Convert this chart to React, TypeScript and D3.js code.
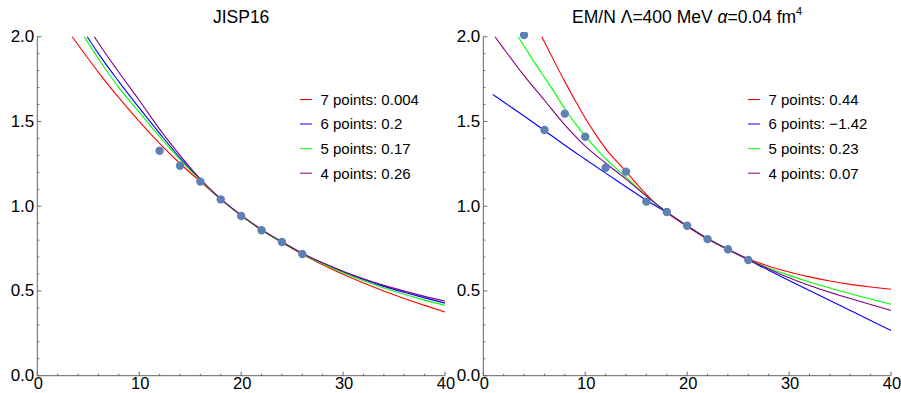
import React from "react";
import * as d3 from "d3";

const W = 901;
const H = 393;

// ---------- data ----------
const jispX = [12, 14, 16, 18, 20, 22, 24, 26];
const jispY = [1.327, 1.239, 1.145, 1.04, 0.942, 0.858, 0.789, 0.718];

const emnX = [4, 6, 8, 10, 12, 14, 16, 18, 20, 22, 24, 26];
const emnY = [2.01, 1.45, 1.546, 1.41, 1.227, 1.204, 1.027, 0.966, 0.885, 0.806, 0.746, 0.683];

const jispRed: [number, number][] = [[3.43, 2.0], [5, 1.87], [6, 1.79], [8, 1.64], [10, 1.5], [12, 1.37], [14, 1.252], [16, 1.145], [18, 1.04], [20, 0.945], [22, 0.86], [24, 0.786], [26, 0.717], [28, 0.655], [30, 0.598], [32, 0.547], [34, 0.5], [36, 0.456], [38, 0.415], [40, 0.376]];
const jispBlue: [number, number][] = [[4.9, 2.0], [6, 1.9], [8, 1.735], [10, 1.58], [12, 1.43], [14, 1.285], [16, 1.155], [18, 1.042], [20, 0.946], [22, 0.861], [24, 0.789], [26, 0.721], [28, 0.663], [30, 0.612], [32, 0.567], [34, 0.527], [36, 0.492], [38, 0.459], [40, 0.428]];
const jispGreen: [number, number][] = [[4.61, 2.0], [6, 1.87], [8, 1.7], [10, 1.555], [12, 1.41], [14, 1.275], [16, 1.152], [18, 1.04], [20, 0.945], [22, 0.86], [24, 0.787], [26, 0.72], [28, 0.66], [30, 0.607], [32, 0.56], [34, 0.518], [36, 0.48], [38, 0.446], [40, 0.415]];
const jispPurple: [number, number][] = [[5.6, 2.0], [6, 1.963], [8, 1.79], [10, 1.625], [12, 1.455], [14, 1.3], [16, 1.16], [18, 1.043], [20, 0.947], [22, 0.862], [24, 0.79], [26, 0.722], [28, 0.666], [30, 0.616], [32, 0.572], [34, 0.533], [36, 0.499], [38, 0.468], [40, 0.44]];

const emnRed: [number, number][] = [[5.73, 2.0], [7, 1.85], [8, 1.735], [9, 1.625], [10, 1.52], [11, 1.425], [12, 1.34], [13, 1.27], [14, 1.205], [15, 1.135], [16, 1.07], [17, 1.01], [18, 0.962], [20, 0.88], [22, 0.806], [24, 0.745], [26, 0.69], [28, 0.646], [30, 0.612], [32, 0.583], [34, 0.559], [36, 0.539], [38, 0.523], [40, 0.51]];
const emnBlue: [number, number][] = [[0.92, 1.66], [2, 1.615], [4, 1.532], [6, 1.447], [8, 1.36], [10, 1.277], [12, 1.195], [14, 1.115], [16, 1.035], [18, 0.962], [20, 0.884], [22, 0.81], [24, 0.745], [26, 0.682], [28, 0.622], [30, 0.562], [32, 0.503], [34, 0.444], [36, 0.385], [38, 0.326], [40, 0.267]];
const emnGreen: [number, number][] = [[3.43, 2.0], [4, 1.945], [5, 1.85], [6, 1.76], [7, 1.67], [8, 1.575], [9, 1.49], [10, 1.413], [11, 1.345], [12, 1.28], [13, 1.225], [14, 1.172], [15, 1.115], [16, 1.06], [17, 1.01], [18, 0.965], [20, 0.884], [22, 0.808], [24, 0.745], [26, 0.686], [28, 0.635], [30, 0.592], [32, 0.553], [34, 0.517], [36, 0.484], [38, 0.452], [40, 0.421]];
const emnPurple: [number, number][] = [[1.15, 2.0], [2, 1.93], [4, 1.77], [6, 1.625], [8, 1.48], [10, 1.355], [12, 1.255], [14, 1.16], [16, 1.06], [18, 0.966], [20, 0.884], [22, 0.808], [24, 0.746], [26, 0.686], [28, 0.63], [30, 0.578], [32, 0.532], [34, 0.492], [36, 0.455], [38, 0.42], [40, 0.385]];

const seriesColors = ["#ff0000", "#0000ff", "#00ff00", "#800080"];
const jispLegend = ["7 points: 0.004", "6 points: 0.2", "5 points: 0.17", "4 points: 0.26"];
const emnLegend = ["7 points: 0.44", "6 points: \u22121.42", "5 points: 0.23", "4 points: 0.07"];

const xMajor = [0, 10, 20, 30, 40];
const yMajor = [0, 0.5, 1.0, 1.5, 2.0];
const yLabels = ["0.0", "0.5", "1.0", "1.5", "2.0"];

const FONT = "'Liberation Sans', Arial, Helvetica, sans-serif";
const AXIS = "#666666";
const POINT = "#5e81b5";

const y = d3.scaleLinear().domain([0, 2]).range([375.7, 36.7]);

type PanelProps = {
  id: string;
  x0: number;
  x1: number;
  title: React.ReactNode;
  curves: [number, number][][];
  px: number[];
  py: number[];
  legend: string[];
  legendX: number;
};

function Panel({ id, x0, x1, title, curves, px, py, legend, legendX }: PanelProps) {
  const x = d3.scaleLinear().domain([0, 40]).range([x0, x1]);
  const line = d3
    .line<[number, number]>()
    .x((d) => x(d[0]))
    .y((d) => y(d[1]))
    .curve(d3.curveMonotoneX);
  const xMinor = d3.range(0, 40.001, 2);
  const yMinor = d3.range(0, 2.0001, 0.1);
  const legendRows = [99.5, 124, 148.7, 173.2];
  return (
    <g>
      <defs>
        <clipPath id={`clip-${id}`}>
          <rect x={x0} y={32} width={x1 - x0 + 6} height={y(0) - 32} />
        </clipPath>
      </defs>
      {/* axes */}
      <line x1={x0} x2={x1} y1={y(0)} y2={y(0)} stroke={AXIS} strokeWidth={1} />
      <line x1={x0} x2={x0} y1={y(0)} y2={y(2)} stroke={AXIS} strokeWidth={1} />
      {xMinor.map((t) => (
        <line key={"xm" + t} x1={x(t)} x2={x(t)} y1={y(0)} y2={y(0) - (t % 10 === 0 ? 4 : 2)} stroke={AXIS} strokeWidth={1} />
      ))}
      {yMinor.map((t, i) => (
        <line key={"ym" + i} x1={x0} x2={x0 + (i % 5 === 0 ? 4 : 2)} y1={y(t)} y2={y(t)} stroke={AXIS} strokeWidth={1} />
      ))}
      {xMajor.map((t) => (
        <text key={"xl" + t} x={x(t) + 1} y={389.3} textAnchor="middle" fontSize={16.5} fontFamily={FONT} fill="#000">
          {t}
        </text>
      ))}
      {yMajor.map((t, i) => (
        <text key={"yl" + t} x={x0 - 3} y={y(t) + 5.5} textAnchor="end" fontSize={17} fontFamily={FONT} fill="#000">
          {yLabels[i]}
        </text>
      ))}
      {/* title */}
      <text x={(x0 + x1) / 2} y={22.5} textAnchor="middle" fontSize={17.5} fontFamily={FONT} fill="#000">
        {title}
      </text>
      {/* curves */}
      <g clipPath={`url(#clip-${id})`}>
        {curves.map((c, i) => (
          <path key={"c" + i} d={line(c) || ""} fill="none" stroke={seriesColors[i]} strokeWidth={1.1} />
        ))}
        {px.map((xv, i) => (
          <circle key={"p" + i} cx={x(xv)} cy={y(py[i])} r={4.2} fill={POINT} />
        ))}
      </g>
      {/* legend */}
      {legend.map((s, i) => (
        <g key={"lg" + i}>
          <line x1={legendX} x2={legendX + 12} y1={legendRows[i]} y2={legendRows[i]} stroke={seriesColors[i]} strokeWidth={1} />
          <text x={legendX + 20.5} y={legendRows[i] + 5.3} fontSize={15} fontFamily={FONT} fill="#000">
            {s}
          </text>
        </g>
      ))}
    </g>
  );
}

export default function App() {
  return (
    <svg
      width={W}
      height={H}
      viewBox={`0 0 ${W} ${H}`}
      style={{ position: "absolute", left: 0, top: 0, background: "#fff" }}
    >
      <rect x={0} y={0} width={W} height={H} fill="#fff" />
      <Panel
        id="jisp"
        x0={37.3}
        x1={445}
        title="JISP16"
        curves={[jispRed, jispBlue, jispGreen, jispPurple]}
        px={jispX}
        py={jispY}
        legend={jispLegend}
        legendX={300}
      />
      <Panel
        id="emn"
        x0={483.3}
        x1={891}
        title={
          <>
            {"EM/N \u039B=400 MeV "}
            <tspan fontStyle="italic">{"\u03B1"}</tspan>
            {"=0.04 fm"}
            <tspan fontSize={11} dy={-8}>4</tspan>
          </>
        }
        curves={[emnRed, emnBlue, emnGreen, emnPurple]}
        px={emnX}
        py={emnY}
        legend={emnLegend}
        legendX={748}
      />
    </svg>
  );
}
